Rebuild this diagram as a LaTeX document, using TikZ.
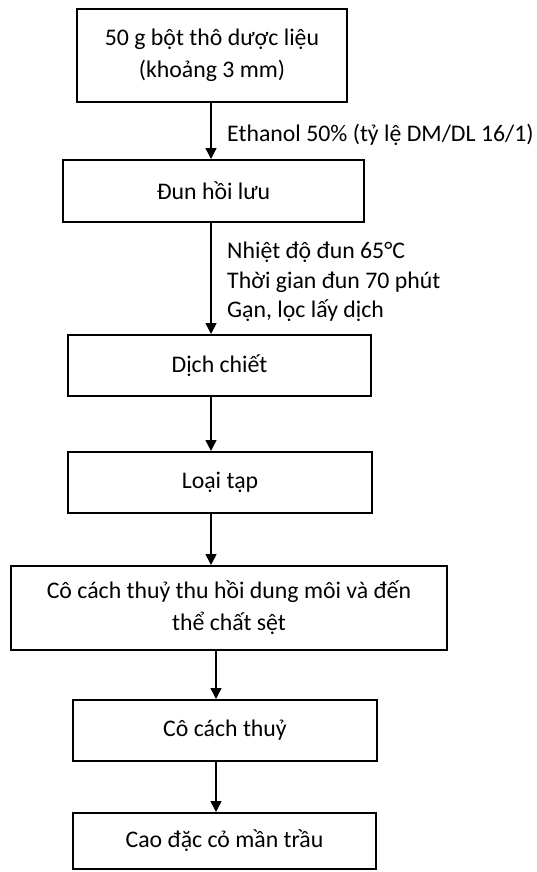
\documentclass[tikz,border=0pt]{standalone}
\usepackage{fontspec}
\setmainfont{Carlito}
\usetikzlibrary{arrows.meta}

\begin{document}
\begin{tikzpicture}
        [
            x = 1pt, y = -1pt,
            box/.style = {draw, line width = 2pt, align = center, inner sep = 0pt,
                font = \fontsize{23.8}{32}\selectfont},
            note/.style = {anchor = west, align = left, inner sep = 0pt,
                font = \fontsize{23.8}{29.5}\selectfont},
            arr/.style = {-{Triangle[length = 11pt, width = 11pt]}, line width = 1.5pt}
        ]

        \useasboundingbox (0,0) rectangle (537,872);

        \node[box, minimum width = 270pt, minimum height = 93pt] (raw) at (212,55.5)
            {50 g bột thô dược liệu\\(khoảng 3 mm)};
        \node[box, minimum width = 301pt, minimum height = 62pt] (reflux) at (213.5,191)
            {Đun hồi lưu};
        \node[box, minimum width = 303pt, minimum height = 61pt] (extract) at (219.5,365.5)
            {Dịch chiết};
        \node[box, minimum width = 304pt, minimum height = 61pt] (purify) at (220,482.5)
            {Loại tạp};
        \node[box, minimum width = 436pt, minimum height = 84pt] (evap1) at (229,608)
            {Cô cách thuỷ thu hồi dung môi và đến\\thể chất sệt};
        \node[box, minimum width = 304pt, minimum height = 61pt] (evap2) at (225,730.5)
            {Cô cách thuỷ};
        \node[box, minimum width = 303pt, minimum height = 56pt] (paste) at (224.5,841)
            {Cao đặc cỏ mần trầu};

        \coordinate (upper) at (211,0);
        \coordinate (lower) at (216,0);

        \draw[arr] (raw.south -| upper) -- (reflux.north -| upper);
        \draw[arr] (reflux.south -| upper) -- (extract.north -| upper);
        \draw[arr] (extract.south -| upper) -- (purify.north -| upper);
        \draw[arr] (purify.south -| upper) -- (evap1.north -| upper);
        \draw[arr] (evap1.south -| lower) -- (evap2.north -| lower);
        \draw[arr] (evap2.south -| lower) -- (paste.north -| lower);

        \node[note] (solvent) at (227,135) {Ethanol 50\% (tỷ lệ DM/DL 16/1)};
        \node[note] (cond) at (227,282)
            {Nhiệt độ đun 65°C\\Thời gian đun 70 phút\\Gạn, lọc lấy dịch};
\end{tikzpicture}
\end{document}
